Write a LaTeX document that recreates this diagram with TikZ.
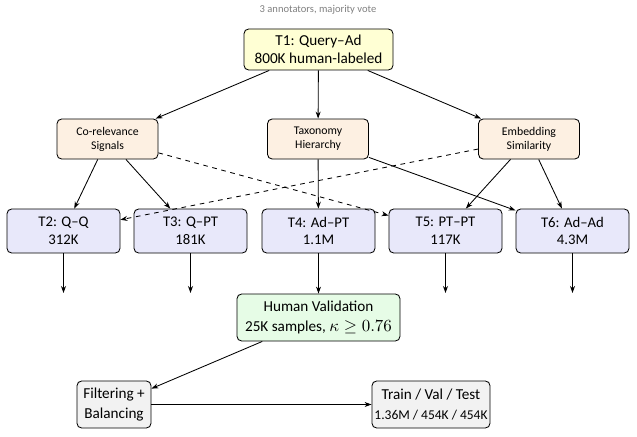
\documentclass[tikz,border=0pt]{standalone}
\usepackage{fontspec}
\setmainfont{Carlito}
\usetikzlibrary{arrows.meta}
\definecolor{cyel}{HTML}{FFFFD4}
\definecolor{cora}{HTML}{FDF0E2}
\definecolor{cblu}{HTML}{E8E8FA}
\definecolor{cgrn}{HTML}{E6FCE6}
\definecolor{cgry}{HTML}{F2F2F2}
\definecolor{ccap}{HTML}{808080}
\tikzset{
  box/.style={draw, rounded corners=3pt, align=center, inner sep=0pt, line width=0.55pt},
  srcbox/.style={box, fill=cora, minimum width=101*0.645pt, minimum height=40*0.645pt, font=\fontsize{7.6}{9}\selectfont},
  taskbox/.style={box, fill=cblu, minimum width=113*0.645pt, minimum height=44*0.645pt, font=\fontsize{9.5}{11.5}\selectfont},
  arr/.style={-{Stealth[length=4.5pt,width=3.2pt]}, line width=0.55pt},
}
\begin{document}
\begin{tikzpicture}[x=0.645pt,y=-0.645pt]
\useasboundingbox (0,0) rectangle (637,436);
\node[font=\fontsize{6.8}{8}\selectfont, text=ccap] (cap) at (318,10) {3 annotators, majority vote};
\node[box, fill=cyel, minimum width=149*0.645pt, minimum height=41*0.645pt, font=\fontsize{9.8}{11.3}\selectfont] (t1) at (318.5,49.5) {T1: Query--Ad\\800K human-labeled};
\node[srcbox] (co) at (107.5,139) {Co-relevance\\Signals};
\node[srcbox] (tax) at (318,139) {Taxonomy\\Hierarchy};
\node[srcbox] (emb) at (529,139) {Embedding\\Similarity};
\node[taskbox] (t2) at (63.5,231) {T2: Q--Q\\312K};
\node[taskbox] (t3) at (190.5,231) {T3: Q--PT\\181K};
\node[taskbox] (t4) at (318.5,231) {T4: Ad--PT\\1.1M};
\node[taskbox] (t5) at (445.5,231) {T5: PT--PT\\117K};
\node[taskbox] (t6) at (572.5,231) {T6: Ad--Ad\\4.3M};
\node[box, fill=cgrn, minimum width=163*0.645pt, minimum height=47*0.645pt, font=\fontsize{9.8}{12.5}\selectfont] (hv) at (318.5,317.5) {Human Validation\\25K samples, {\fontsize{11}{12.5}\selectfont$\kappa \geq 0.76$}};
\node[box, fill=cgry, minimum width=74*0.645pt, minimum height=47*0.645pt, font=\fontsize{9.8}{12.5}\selectfont] (fb) at (114,404.5) {Filtering +\\Balancing};
\node[box, fill=cgry, minimum width=118*0.645pt, minimum height=47*0.645pt, font=\fontsize{9.8}{12.5}\selectfont] (tvt) at (431,404.5) {Train / Val / Test\\{\fontsize{8.7}{12.5}\selectfont 1.36M / 454K / 454K}};
\coordinate (e2) at (63.5,293);
\coordinate (e3) at (190.5,293);
\coordinate (e5) at (445.5,293);
\coordinate (e6) at (572.5,293);
\draw[arr] (t1) -- (co);
\draw[arr] (t1) -- (tax);
\draw[arr] (t1) -- (emb);
\draw[arr] (co) -- (t2);
\draw[arr] (co) -- (t3);
\draw[arr] (tax) -- (t4);
\draw[arr] (tax) -- (t6);
\draw[arr] (emb) -- (t5);
\draw[arr] (emb) -- (t6);
\draw[arr, dashed] (co) -- (t5);
\draw[arr, dashed] (emb) -- (t2);
\draw[arr] (t2) -- (e2);
\draw[arr] (t3) -- (e3);
\draw[arr] (t4) -- (hv);
\draw[arr] (t5) -- (e5);
\draw[arr] (t6) -- (e6);
\draw[arr] (hv) -- (fb);
\draw[arr] (fb) -- (tvt);
\end{tikzpicture}
\end{document}
